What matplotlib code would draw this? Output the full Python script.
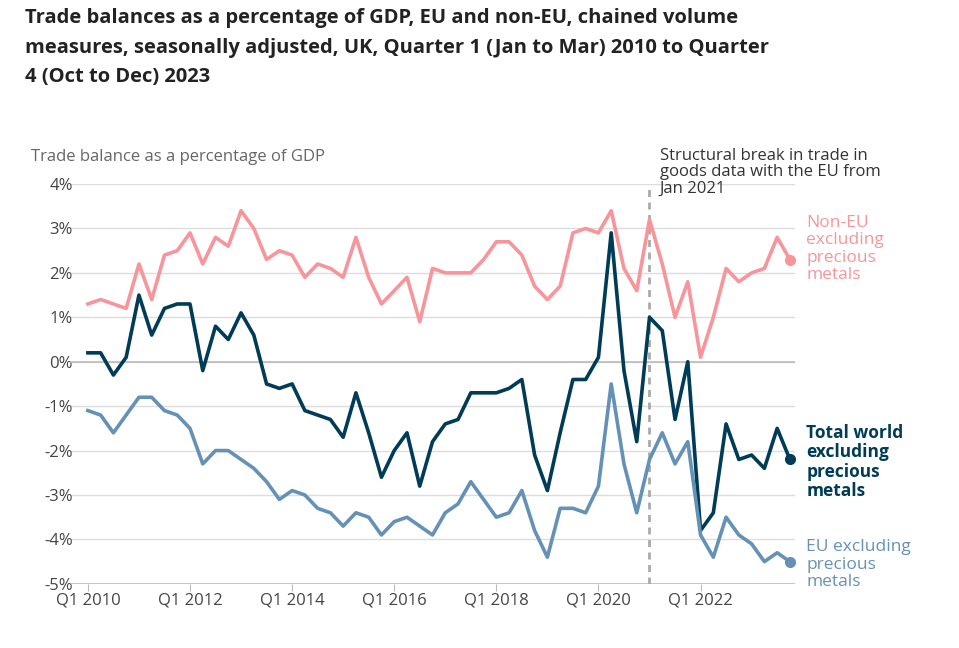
import matplotlib.pyplot as plt
import numpy as np

plt.rcParams['font.family'] = ['Open Sans', 'DejaVu Sans']

quarters = [f"Q{q} {y}" for y in range(2010, 2024) for q in range(1, 5)]

non_eu = [1.3, 1.4, 1.3, 1.2, 2.2, 1.4, 2.4, 2.5, 2.9, 2.2, 2.8, 2.6,
          3.4, 3.0, 2.3, 2.5, 2.4, 1.9, 2.2, 2.1, 1.9, 2.8, 1.9, 1.3,
          1.6, 1.9, 0.9, 2.1, 2.0, 2.0, 2.0, 2.3, 2.7, 2.7, 2.4, 1.7,
          1.4, 1.7, 2.9, 3.0, 2.9, 3.4, 2.1, 1.6, 3.2, 2.2, 1.0, 1.8,
          0.1, 1.0, 2.1, 1.8, 2.0, 2.1, 2.8, 2.3]
total = [0.2, 0.2, -0.3, 0.1, 1.5, 0.6, 1.2, 1.3, 1.3, -0.2, 0.8, 0.5,
         1.1, 0.6, -0.5, -0.6, -0.5, -1.1, -1.2, -1.3, -1.7, -0.7, -1.6, -2.6,
         -2.0, -1.6, -2.8, -1.8, -1.4, -1.3, -0.7, -0.7, -0.7, -0.6, -0.4, -2.1,
         -2.9, -1.6, -0.4, -0.4, 0.1, 2.9, -0.2, -1.8, 1.0, 0.7, -1.3, 0.0,
         -3.8, -3.4, -1.4, -2.2, -2.1, -2.4, -1.5, -2.2]
eu = [-1.1, -1.2, -1.6, -1.2, -0.8, -0.8, -1.1, -1.2, -1.5, -2.3, -2.0, -2.0,
      -2.2, -2.4, -2.7, -3.1, -2.9, -3.0, -3.3, -3.4, -3.7, -3.4, -3.5, -3.9,
      -3.6, -3.5, -3.7, -3.9, -3.4, -3.2, -2.7, -3.1, -3.5, -3.4, -2.9, -3.8,
      -4.4, -3.3, -3.3, -3.4, -2.8, -0.5, -2.3, -3.4, -2.2, -1.6, -2.3, -1.8,
      -3.9, -4.4, -3.5, -3.9, -4.1, -4.5, -4.3, -4.5]

series = [
    (non_eu, "#f8959b", "Non-EU\nexcluding\nprecious\nmetals", False),
    (total, "#003c57", "Total world\nexcluding\nprecious\nmetals", True),
    (eu, "#6591b7", "EU excluding\nprecious\nmetals", False),
]

fig = plt.figure(figsize=(9.59, 6.48), dpi=100)
ax = fig.add_axes([0.073, 0.099, 0.756, 0.617])
x = np.arange(len(quarters))

for vals, col, lab, bold in series:
    ax.plot(x, vals, color=col, lw=2.6, zorder=3, clip_on=False)
    ax.plot(x[-1], vals[-1], 'o', color=col, ms=7, zorder=4, clip_on=False)

offsets = [1.0, 0.8, 0.5]
for (vals, col, lab, bold), off in zip(series, offsets):
    ax.text(x[-1] + 1.3, vals[-1] + off, lab, color=col, fontsize=12.5, va='top',
            fontweight='bold' if bold else 'normal', linespacing=1.1)

ax.set_xlim(-1.4, 55.4)
ax.set_ylim(-5, 4)
ax.set_yticks(range(-5, 5))
ax.set_yticklabels([f"{v}%" for v in range(-5, 5)])
ax.set_xticks(x[::8])
ax.set_xticklabels(quarters[::8])
ax.grid(axis='y', color='#dddddd', lw=1)
ax.axhline(0, color='#bbbbbb', lw=1.2, zorder=1)
ax.axhline(-5, color='#bbbbbb', lw=1.2, zorder=1)
for s in ax.spines.values():
    s.set_visible(False)
ax.tick_params(axis='y', length=0, labelsize=12, colors='#444444', pad=-2)
ax.tick_params(axis='x', length=5, color='#bbbbbb', labelsize=12, colors='#444444', pad=1)
ax.set_axisbelow(True)

ax.axvline(44, color='#aaaaaa', ls=(0, (2.5, 2)), lw=2, zorder=2)
ax.text(44.8, 4.8, "Structural break in trade in\ngoods data with the EU from\nJan 2021",
        fontsize=12, color='#333333', va='top', linespacing=1.0)

fig.text(0.032, 0.745, "Trade balance as a percentage of GDP", fontsize=12, color='#666666', va='bottom')
fig.text(0.026, 0.988, "Trade balances as a percentage of GDP, EU and non-EU, chained volume\n"
         "measures, seasonally adjusted, UK, Quarter 1 (Jan to Mar) 2010 to Quarter\n"
         "4 (Oct to Dec) 2023", fontsize=14.5, fontweight='bold', color='#222222', va='top', linespacing=1.65)

fig.savefig("out.png", dpi=100)
